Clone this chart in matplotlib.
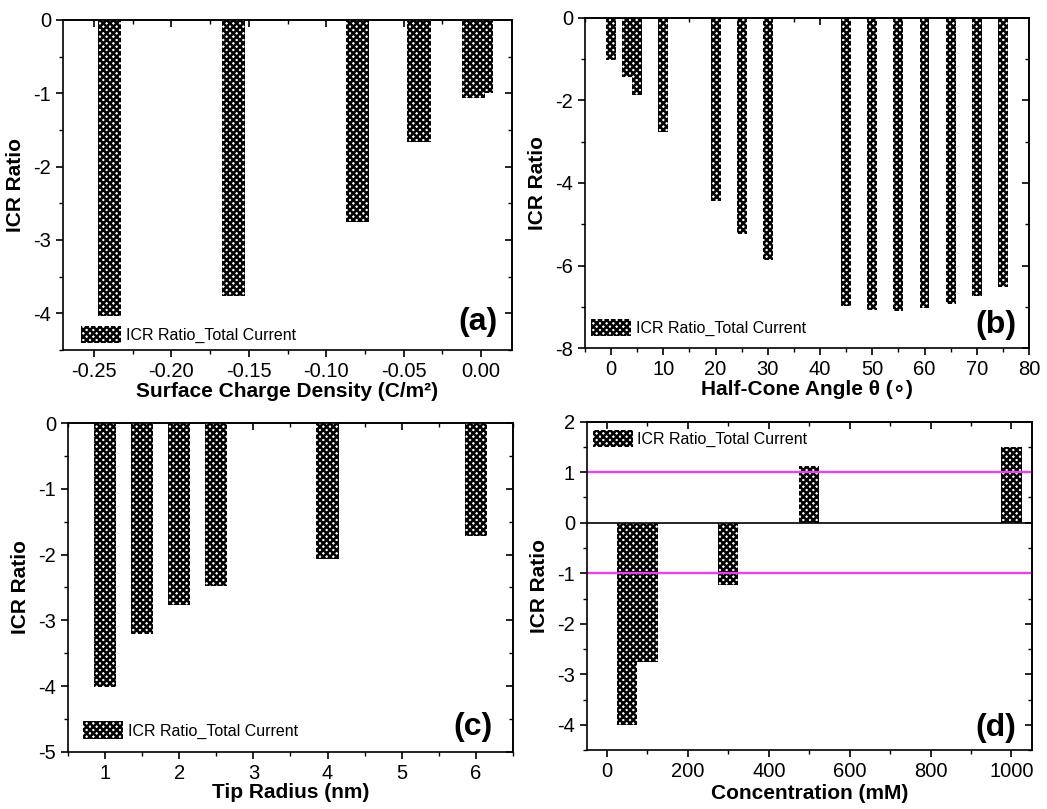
import numpy as np
import matplotlib
matplotlib.use('Agg')
import matplotlib.pyplot as plt
from matplotlib.ticker import MultipleLocator

##data
#(a) surface charge density
sigma = [-0.24, -0.16, -0.08, -0.04, -0.005, 0.0]
icr_sigma = [-4.03, -3.77, -2.75, -1.67, -1.07, -1.0]
#(b) half-cone angle
theta = [0, 3, 5, 10, 20, 25, 30, 45, 50, 55, 60, 65, 70, 75]
icr_theta = [-1.02, -1.44, -1.86, -2.77, -4.44, -5.24, -5.87,
             -6.97, -7.08, -7.11, -7.04, -6.93, -6.74, -6.51]
#(c) tip radius
radius = [1, 1.5, 2, 2.5, 4, 6]
icr_radius = [-4.01, -3.2, -2.76, -2.48, -2.07, -1.71]
#(d) concentration
conc = [50, 100, 300, 500, 1000]
icr_conc = [-4.0, -2.76, -1.24, 1.13, 1.49]
ref_lines = [1, -1]

##style
plt.rcParams['font.family'] = ['Liberation Sans', 'DejaVu Sans']
plt.rcParams['axes.unicode_minus'] = False
plt.rcParams['hatch.linewidth'] = 1.8
plt.rcParams['axes.linewidth'] = 1.2
lbl = 'ICR Ratio_Total Current'
hatch = 'xxxxx'

fig = plt.figure(figsize=(10.47, 8.09), dpi=100)


def style_axes(ax, xmaj, xmin, ymaj, ymin):
    ax.xaxis.set_major_locator(MultipleLocator(xmaj))
    ax.xaxis.set_minor_locator(MultipleLocator(xmin))
    ax.yaxis.set_major_locator(MultipleLocator(ymaj))
    ax.yaxis.set_minor_locator(MultipleLocator(ymin))
    ax.tick_params(which='major', direction='out', length=5, width=1.2, labelsize=14.5)
    ax.tick_params(which='minor', direction='out', length=3, width=1.0)
    #top and right ticks point inwards
    top = ax.secondary_xaxis('top')
    top.xaxis.set_major_locator(MultipleLocator(xmaj))
    top.xaxis.set_minor_locator(MultipleLocator(xmin))
    top.tick_params(which='major', direction='in', length=5, width=1.2, labeltop=False)
    top.tick_params(which='minor', direction='in', length=3, width=1.0)
    right = ax.secondary_yaxis('right')
    right.yaxis.set_major_locator(MultipleLocator(ymaj))
    right.yaxis.set_minor_locator(MultipleLocator(ymin))
    right.tick_params(which='major', direction='in', length=5, width=1.2, labelright=False)
    right.tick_params(which='minor', direction='in', length=3, width=1.0)
    ax.set_ylabel('ICR Ratio', fontsize=15, fontweight='bold', labelpad=6)


def add_legend(ax, loc, anchor):
    ax.legend(loc=loc, bbox_to_anchor=anchor, frameon=False, fontsize=11.5,
              handlelength=2.5, handleheight=1.3, handletextpad=0.3,
              borderpad=0, borderaxespad=0)


def add_tag(ax, txt, x, y):
    ax.text(x, y, txt, transform=ax.transAxes, ha='right', va='center',
            fontsize=23, fontweight='bold')


#(a)
ax1 = fig.add_axes([0.0602, 0.5674, 0.4288, 0.4079])
ax1.bar(sigma, icr_sigma, width=0.015, color='white', edgecolor='black',
        linewidth=0, hatch=hatch, label=lbl)
ax1.set_xlim(-0.27, 0.02)
ax1.set_ylim(-4.5, 0)
style_axes(ax1, 0.05, 0.025, 1, 0.5)
ax1.xaxis.set_major_formatter(matplotlib.ticker.FormatStrFormatter('%.2f'))
ax1.set_xlabel('Surface Charge Density (C/m²)', fontsize=15, fontweight='bold', labelpad=1)
add_legend(ax1, 'lower left', (0.04, 0.02))
add_tag(ax1, '(a)', 0.967, 0.085)

#(b)
ax2 = fig.add_axes([0.5587, 0.5698, 0.4241, 0.4080])
ax2.bar(theta, icr_theta, width=1.9, color='white', edgecolor='black',
        linewidth=0, hatch=hatch, label=lbl)
ax2.set_xlim(-5, 80)
ax2.set_ylim(-8, 0)
style_axes(ax2, 10, 5, 2, 1)
ax2.set_xlabel('Half-Cone Angle θ (∘)', fontsize=15, fontweight='bold', labelpad=1)
add_legend(ax2, 'lower left', (0.0135, 0.035))
add_tag(ax2, '(b)', 0.972, 0.07)

#(c)
ax3 = fig.add_axes([0.0649, 0.0705, 0.4251, 0.4066])
ax3.bar(radius, icr_radius, width=0.3, color='white', edgecolor='black',
        linewidth=0, hatch=hatch, label=lbl)
ax3.set_xlim(0.5, 6.5)
ax3.set_ylim(-5, 0)
style_axes(ax3, 1, 0.5, 1, 0.5)
ax3.set_xlabel('Tip Radius (nm)', fontsize=15, fontweight='bold', labelpad=0)
add_legend(ax3, 'lower left', (0.034, 0.04))
add_tag(ax3, '(c)', 0.954, 0.077)

#(d)
ax4 = fig.add_axes([0.5604, 0.0729, 0.4250, 0.4058])
ax4.bar(conc, icr_conc, width=50, color='white', edgecolor='black',
        linewidth=0, hatch=hatch, label=lbl)
ax4.axhline(0, color='black', linewidth=1.2)
for yv in ref_lines:
    ax4.axhline(yv, color='#ff33ff', linewidth=1.6)
ax4.set_xlim(-50, 1050)
ax4.set_ylim(-4.5, 2)
style_axes(ax4, 200, 100, 1, 0.5)
ax4.set_xlabel('Concentration (mM)', fontsize=15, fontweight='bold', labelpad=2)
add_legend(ax4, 'upper left', (0.0135, 0.975))
add_tag(ax4, '(d)', 0.966, 0.066)

fig.savefig('out.png', dpi=100)
